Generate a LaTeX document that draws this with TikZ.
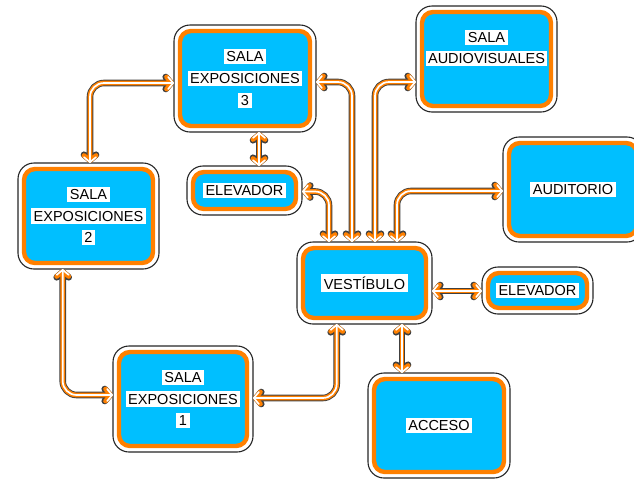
\documentclass[tikz,border=0pt]{standalone}
\usepackage{fontspec}
\setmainfont{Liberation Sans}
\usetikzlibrary{arrows.meta}
\definecolor{boxcyan}{RGB}{0,191,255}
\definecolor{boxorange}{RGB}{255,128,0}
\newcommand\wb[1]{{\setlength\fboxsep{2.5pt}\colorbox{white}{#1}}}
\tikzset{
  outerbox/.style={draw=black!85, line width=1.1pt, fill=white, rounded corners=16pt, inner sep=0pt, outer sep=0pt},
  innerbox/.style={draw=boxorange, line width=4.4pt, fill=boxcyan, rounded corners=11pt},
  lbl/.style={align=center, font=\fontsize{14.5}{21.7}\selectfont, inner sep=0pt},
  tipx/.tip={Straight Barb[length=5pt,width=12pt,line join=round,line cap=round]},
  cb/.style={draw=black!75, line width=6.6pt, rounded corners=14pt, tipx-tipx, line join=round},
  co/.style={draw=boxorange, line width=4.8pt, rounded corners=14pt, tipx-tipx, line join=round},
  cw/.style={draw=white, line width=1.7pt, rounded corners=14pt, tipx-tipx, line join=round},
}
\newcommand\room[5]{%
  \node[outerbox, minimum width=#4pt, minimum height=#5pt] (#1) at (#2,#3) {};
  \draw[innerbox] ([xshift=6pt,yshift=6pt]#1.south west) rectangle ([xshift=-6pt,yshift=-6pt]#1.north east);
}
\newcommand\connect[1]{\draw[cb] #1; \draw[co] #1; \draw[cw] #1;}
\begin{document}
\begin{tikzpicture}[x=1pt,y=-1pt]
\useasboundingbox (0,0) rectangle (634,480);
% rooms
\room{s3}{245}{78.5}{142}{107}
\room{ev1}{244.5}{190.5}{115}{49}
\room{s2}{88.5}{216}{141}{106}
\room{s1}{183}{399}{140}{106}
\room{vest}{364.5}{283}{135}{82}
\room{acc}{439}{425.5}{142}{105}
\room{ev2}{537.5}{290.5}{111}{47}
\room{av}{486.5}{59}{141}{106}
\room{aud}{573}{189.5}{140}{105}
% labels
\node[lbl] (s3t) at (s3) {\wb{SALA}\\\wb{EXPOSICIONES}\\\wb{3}};
\node[lbl] (ev1t) at (ev1) {\wb{ELEVADOR}};
\node[lbl] (s2t) at (s2) {\wb{SALA}\\\wb{EXPOSICIONES}\\\wb{2}};
\node[lbl] (s1t) at (s1) {\wb{SALA}\\\wb{EXPOSICIONES}\\\wb{1}};
\node[lbl] (vestt) at (vest) {\wb{VESTÍBULO}};
\node[lbl] (acct) at (acc) {\wb{ACCESO}};
\node[lbl] (ev2t) at (ev2) {\wb{ELEVADOR}};
\node[lbl] (avt) at (486.5,48) {\wb{SALA}\\\wb{AUDIOVISUALES}};
\node[lbl] (audt) at (aud) {\wb{AUDITORIO}};
% connectors
\connect{(90,0 |- s2.north) |- (s3.west |- 0,83)}
\connect{(62.7,0 |- s2.south) |- (s1.west |- 0,395)}
\connect{(s1.east |- 0,398) -| (336.7,0 |- vest.south)}
\connect{(402,0 |- vest.south) -- (402,0 |- acc.north)}
\connect{(vest.east |- 0,291) -- (ev2.west |- 0,291)}
\connect{(259,0 |- s3.south) -- (259,0 |- ev1.north)}
\connect{(ev1.east |- 0,191.5) -| (329,0 |- vest.north)}
\connect{(s3.east |- 0,82) -| (352,0 |- vest.north)}
\connect{(375,0 |- vest.north) |- (av.west |- 0,82)}
\connect{(397,0 |- vest.north) |- (aud.west |- 0,191)}
\end{tikzpicture}
\end{document}
